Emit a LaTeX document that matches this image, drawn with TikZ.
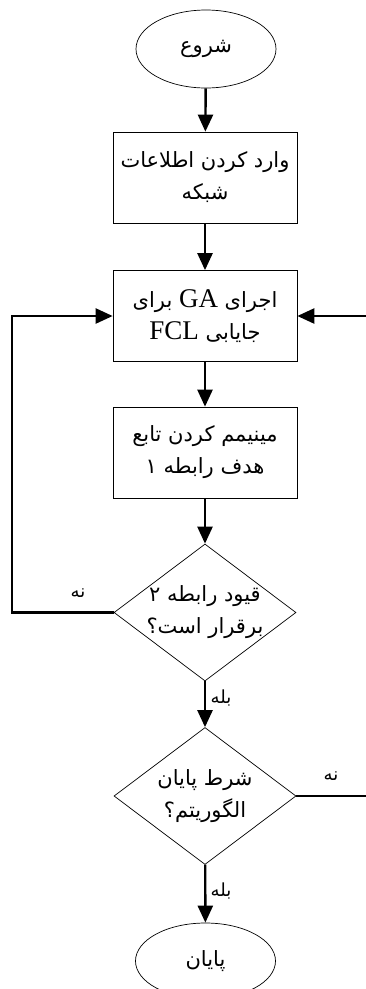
\documentclass[tikz,border=0pt]{standalone}
\usepackage{fontspec}
\setmainfont{Liberation Serif}
\newfontfamily\arabicfont[Script=Arabic]{DejaVu Sans}
\TeXXeTstate=1
\usetikzlibrary{shapes.geometric,arrows.meta}
\newcommand{\latn}[1]{{\rmfamily\fontsize{27}{32}\selectfont\beginL #1\endL}}
\begin{document}
\begin{tikzpicture}[x=1pt,y=-1pt,
  txt/.style={font=\arabicfont\fontsize{21}{32}\selectfont, align=center},
  boxnode/.style={txt, draw, line width=0.7pt, minimum width=184pt, minimum height=91pt, inner sep=0pt},
  term/.style={txt, draw, line width=0.7pt, ellipse, minimum width=140pt, minimum height=78pt, inner sep=0pt},
  decision/.style={draw, line width=0.7pt, diamond, minimum width=182pt, minimum height=137pt, inner sep=0pt},
  flow/.style={line width=2.4pt, -{Triangle[length=17pt,width=15pt]}},
  plain/.style={line width=2.4pt},
  lbl/.style={font=\arabicfont\fontsize{18}{20}\selectfont, inner sep=0pt}]
\useasboundingbox (0,0) rectangle (366,989);
\node[term] (start) at (206,49) {\beginR شروع\endR};
\node[boxnode] (b1) at (205,177.5) {\beginR وارد کردن اطلاعات\endR\\\beginR شبکه\endR};
\node[boxnode] (b2) at (205,316) {\beginR اجرای \latn{GA} برای\endR\\\beginR جایابی \latn{FCL}\endR};
\node[boxnode] (b3) at (205,452.5) {\beginR مینیمم کردن تابع\endR\\\beginR هدف رابطه ۱\endR};
\node[decision, label={[txt]center:{\beginR قیود رابطه ۲\endR\\\beginR برقرار است؟\endR}}] (d1) at (205,612.5) {};
\node[decision, label={[txt]center:{\beginR شرط پایان\endR\\\beginR الگوریتم؟\endR}}] (d2) at (205,796) {};
\node[term, minimum height=76pt] (end) at (205.5,961) {\beginR پایان\endR};
\coordinate (lc) at (12,316);
\coordinate (rx) at (366,796);
\coordinate (ry) at (366,316);
\draw[flow] (start) -- (b1);
\draw[flow] (b1) -- (b2);
\draw[flow] (b2) -- (b3);
\draw[flow] (b3) -- (d1);
\draw[flow] (d1) -- (d2);
\draw[flow] (d2) -- (end);
\draw[flow] (d1.west) -| (lc) -- (b2.west);
\draw[plain] (d2.east) -- (rx);
\draw[flow] (ry) -- (b2.east);
\node[lbl] (n1) at (78,593) {\beginR نه\endR};
\node[lbl] (n2) at (331,776) {\beginR نه\endR};
\node[lbl] (y1) at (221,698) {\beginR بله\endR};
\node[lbl] (y2) at (221,891) {\beginR بله\endR};
\end{tikzpicture}
\end{document}
